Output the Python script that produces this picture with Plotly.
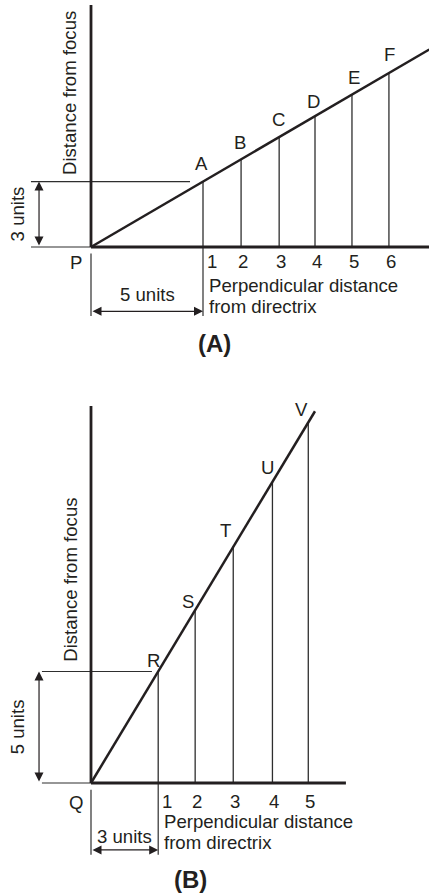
import plotly.graph_objects as go

# ---- Panel (A): eccentricity 3/5 (ellipse) ----
a_names = ["A", "B", "C", "D", "E", "F"]
a_ticks = ["1", "2", "3", "4", "5", "6"]
a_dir = [5.0, 6.7, 8.4, 10.0, 11.65, 13.3]      # perpendicular distance from directrix
a_foc = [3.0, 4.0, 5.05, 6.0, 7.0, 8.0]         # distance from focus
a_line_x = [0, 15.1]
a_line_y = [0, 9.06]
a_axis_top = 11.1
a_axis_right = 15.2

# ---- Panel (B): eccentricity 5/3 (hyperbola) ----
b_names = ["R", "S", "T", "U", "V"]
b_ticks = ["1", "2", "3", "4", "5"]
b_dir = [3.0, 4.65, 6.35, 8.1, 9.7]
b_foc = [5.0, 7.75, 10.6, 13.5, 16.15]
b_line_x = [0, 10.0]
b_line_y = [0, 16.67]
b_axis_top = 16.9
b_axis_right = 11.38

INK = "#231f20"
THIN = "#2e2e2e"
FONT = "Liberation Sans, Arial, Helvetica, sans-serif"
FS = 18.6

fig = go.Figure()


def seg(xs, ys, xa, ya, width, color):
    fig.add_trace(go.Scatter(x=xs, y=ys, mode="lines", xaxis=xa, yaxis=ya,
                             line=dict(color=color, width=width),
                             hoverinfo="skip", showlegend=False, cliponaxis=False))


def verticals(xs, ys, bottom):
    vx, vy = [], []
    for x, y in zip(xs, ys):
        vx += [x, x, None]
        vy += [bottom, y, None]
    return vx, vy


def note(text, x, y, xr, yr, **kw):
    base = dict(text=text, x=x, y=y, xref=xr, yref=yr, showarrow=False,
                xanchor="center", yanchor="middle",
                font=dict(family=FONT, size=FS, color=INK))
    base.update(kw)
    fig.add_annotation(**base)


def dim_arrow(x0, y0, x1, y1, xr, yr):
    fig.add_annotation(x=x1, y=y1, ax=x0, ay=y0, xref=xr, yref=yr,
                       axref=xr, ayref=yr, text="", showarrow=True,
                       arrowhead=2, startarrowhead=2, arrowside="end+start",
                       arrowsize=1.5, startarrowsize=1.5, arrowwidth=1.2,
                       arrowcolor=INK, standoff=0, startstandoff=0)


def panel(xa, ya, xr, yr, names, ticks, dx, fy, lx, ly, top, right,
          ext_left, ext_right, arr_x, arr_y, h_units, w_units,
          rot_x, rot_y, origin_lbl, tick_dy, lab_shift, pd_dy):
    # construction lines
    vx, vy = verticals(dx, fy, 0)
    seg(vx, vy, xa, ya, 1.3, THIN)
    # horizontal guide at the first point and the baseline stub
    seg([ext_left, ext_right], [fy[0], fy[0]], xa, ya, 1.2, THIN)
    seg([ext_left, 0], [0, 0], xa, ya, 1.2, THIN)
    # extension lines below the baseline
    seg([0, 0], [-0.3, arr_y - 0.22], xa, ya, 1.2, THIN)
    seg([dx[0], dx[0]], [0, arr_y - 0.22], xa, ya, 1.2, THIN)
    # axes and ratio line
    seg([0, 0], [0, top], xa, ya, 2.8, INK)
    seg([0, right], [0, 0], xa, ya, 2.8, INK)
    seg(lx, ly, xa, ya, 2.5, INK)

    # dimension arrows
    dim_arrow(arr_x, 0, arr_x, fy[0], xr, yr)
    dim_arrow(0, arr_y, dx[0], arr_y, xr, yr)
    note(h_units, rot_x, fy[0] / 2, xr, yr, textangle=-90)
    note(w_units, dx[0] / 2, arr_y, xr, yr, yshift=lab_shift)

    # point labels
    for i, (n, x, y) in enumerate(zip(names, dx, fy)):
        note(n, x, y, xr, yr, xshift=lab_offsets[xr][i][0],
             yshift=lab_offsets[xr][i][1])
    # division numbers
    for i, (t, x) in enumerate(zip(ticks, dx)):
        note(t, x, 0, xr, yr, yshift=-tick_dy, xshift=9 if i == 0 else 2)
    note("Perpendicular distance", dx[0], 0, xr, yr, xanchor="left",
         xshift=4, yshift=-pd_dy)
    note("from directrix", dx[0], 0, xr, yr, xanchor="left",
         xshift=4, yshift=-pd_dy - 21)
    note("Distance from focus", rot_x + 2.35, rot_y, xr, yr, textangle=-90)
    note(origin_lbl, 0, 0, xr, yr, xshift=-15, yshift=-tick_dy - 1)


lab_offsets = {
    "x": [(-2, 18), (-1, 17), (-1, 17), (-2, 15), (2, 17), (1, 18)],
    "x2": [(-5, 11), (-7, 9), (-8, 16), (-5, 14), (-7, 13)],
}

panel("x", "y", "x", "y", a_names, a_ticks, a_dir, a_foc, a_line_x, a_line_y,
      a_axis_top, a_axis_right, -2.68, 4.42, -2.32, -2.95,
      "3 units", "5 units", -3.3, 7.05, "P", 14, 17, 38)
panel("x2", "y2", "x2", "y2", b_names, b_ticks, b_dir, b_foc, b_line_x, b_line_y,
      b_axis_top, b_axis_right, -2.19, 2.72, -2.32, -3.0,
      "5 units", "3 units", -3.3, 9.1, "Q", 19, 13, 39)

note("<b>(A)</b>", 214 / 429, 1 - 343 / 894, "paper", "paper",
     font=dict(family=FONT, size=24, color=INK))
note("<b>(B)</b>", 190 / 429, 1 - 879 / 894, "paper", "paper",
     font=dict(family=FONT, size=24, color=INK))

xr = [-4.0625, 15.089]
hidden = dict(visible=False, showgrid=False, zeroline=False, fixedrange=True)
fig.update_layout(
    width=429, height=894,
    margin=dict(l=0, r=0, t=0, b=0),
    paper_bgcolor="white", plot_bgcolor="white",
    showlegend=False,
    xaxis=dict(domain=[0, 1], range=xr, anchor="y", **hidden),
    yaxis=dict(domain=[1 - 365 / 894, 1], range=[-5.413, 11.33], anchor="x", **hidden),
    xaxis2=dict(domain=[0, 1], range=xr, anchor="y2", **hidden),
    yaxis2=dict(domain=[0, 1 - 365 / 894], range=[-4.978, 18.744], anchor="x2", **hidden),
)

fig.write_html("out.html")
